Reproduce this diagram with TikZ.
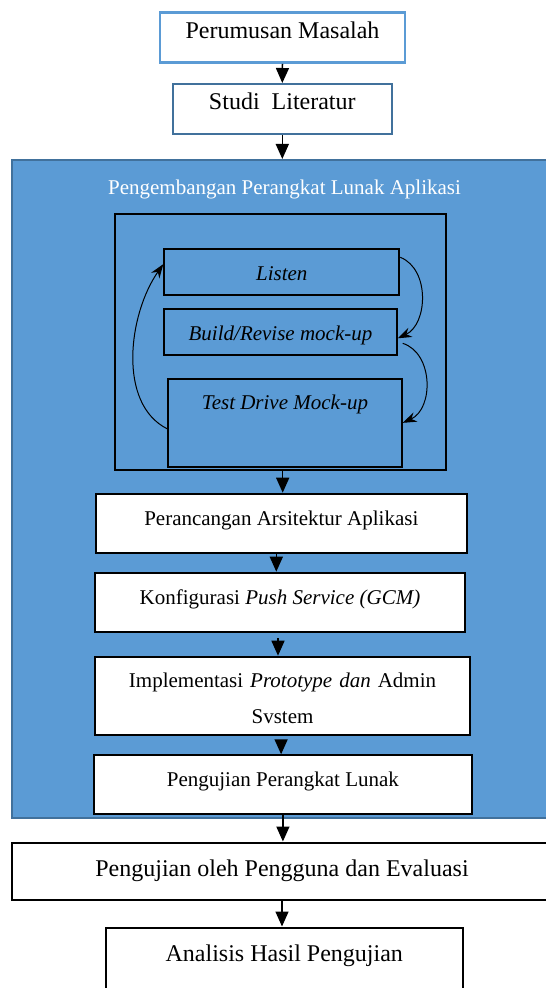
\documentclass[tikz,border=0pt]{standalone}
\usepackage{fontspec}
\setmainfont{Liberation Serif}
\usepackage{tikz}
\usetikzlibrary{arrows.meta}
\definecolor{pmblue}{RGB}{91,155,213}
\definecolor{pmbluedark}{RGB}{65,113,156}
\newcommand{\bigsz}{\fontsize{12}{14.4}\selectfont}
\newcommand{\smallsz}{\fontsize{10.5}{12.6}\selectfont}

\begin{document}
\begin{tikzpicture}[x=0.5pt,y=-0.5pt,
  every node/.style={anchor=north,inner xsep=0pt,inner ysep=0pt},
  outbox/.style={draw,line width=1pt,fill=white,font=\bigsz},
  stepbox/.style={draw,line width=1pt,fill=white,font=\smallsz},
  loopbox/.style={draw,line width=1pt,font=\smallsz\itshape},
  flow/.style={-{Triangle[width=6.5pt,length=7.5pt]},line width=0.75pt},
  loopflow/.style={-{Stealth[length=7pt,width=5pt]},line width=0.5pt}]
  \useasboundingbox (0,0) rectangle (545,988);

  \node[draw=pmblue,line width=1.2pt,font=\bigsz,minimum width=122.5pt,text height=12.75pt,text depth=12.25pt] (masalah) at (282.5,11.5) {Perumusan Masalah};
  \node[draw=pmbluedark,line width=1pt,font=\bigsz,minimum width=109.75pt,text height=12.75pt,text depth=12.25pt] (literatur) at (282.3,83) {Studi\ \ Literatur};

  % blok pengembangan
  \node[fill=pmblue,draw=pmbluedark,line width=0.8pt,anchor=north west,minimum width=268pt,minimum height=329pt] (fase) at (11,159) {};
  \node[anchor=base,text=white,font=\smallsz] (judul) at (284.5,195) {Pengembangan Perangkat Lunak Aplikasi};
  \node[draw,line width=1.2pt,anchor=north west,minimum width=165.5pt,minimum height=127.75pt] (siklus) at (114,213) {};

  \node[loopbox,minimum width=117.5pt,text height=15.5pt,text depth=7.35pt] (listen) at (281.8,248.3) {Listen};
  \node[loopbox,minimum width=116.2pt,text height=15.5pt,text depth=7.5pt] (build) at (280.5,308.3) {Build/Revise mock-up};
  \node[loopbox,minimum width=116.7pt,text height=15.3pt,text depth=28.85pt] (test) at (285,377.7) {Test Drive Mock-up};

  \node[stepbox,minimum width=185.35pt,text height=15.65pt,text depth=13.85pt] (arsitektur) at (281.3,492.7) {Perancangan Arsitektur Aplikasi};
  \node[stepbox,minimum width=185pt,text height=15.8pt,text depth=13.85pt] (gcm) at (280,571.7) {Konfigurasi \textit{Push Service (GCM)}};
  \node[stepbox,minimum width=187.5pt,text width=187.5pt,align=center,text height=15.5pt,text depth=23.65pt] (prototipe) at (282.5,655.7) {Implementasi \textit{Prototype dan} Admin\\[5.4pt]Svstem};
  \node[stepbox,minimum width=188.85pt,text height=15.35pt,text depth=13.85pt] (pengujian) at (282.9,754.3) {Pengujian Perangkat Lunak};

  \node[outbox,minimum width=270pt,text height=16.75pt,text depth=11.75pt] (evaluasi) at (282,841.5) {Pengujian oleh Pengguna dan Evaluasi};
  \node[outbox,minimum width=178.25pt,text height=16.75pt,text depth=17.5pt] (analisis) at (284.3,926.5) {Analisis Hasil Pengujian};

  \draw[flow] (masalah.south) -- (literatur.north);
  \draw[flow] (literatur.south) -- (literatur.south |- fase.north);
  \draw[loopflow] ([yshift=-4.5pt]listen.north east) .. controls +(30,12) and +(30,-14) .. ([yshift=-3pt]build.east);
  \draw[loopflow] ([xshift=2.5pt,yshift=-5.5pt]build.east) .. controls +(31,10) and +(31,-14) .. (test.east);
  \draw[loopflow] ([yshift=-3pt]test.west) .. controls +(-50,-25) and +(-35,50) .. ([yshift=4pt]listen.west);
  \draw[flow] ([xshift=1pt]siklus.south) -- ([xshift=1pt]siklus.south |- arsitektur.north);
  \draw[flow] ([xshift=-2.5pt]arsitektur.south) -- ([xshift=-2.5pt]arsitektur.south |- gcm.north);
  \draw[flow,shorten <=2.5pt] ([xshift=-1pt]gcm.south) -- ([xshift=-1pt]gcm.south |- prototipe.north);
  \draw[flow,shorten <=2.5pt] ([xshift=-0.7pt]prototipe.south) -- ([xshift=-0.7pt]prototipe.south |- pengujian.north);
  \draw[flow] (pengujian.south) -- (pengujian.south |- evaluasi.north);
  \draw[flow] (evaluasi.south) -- (evaluasi.south |- analisis.north);
\end{tikzpicture}
\end{document}
